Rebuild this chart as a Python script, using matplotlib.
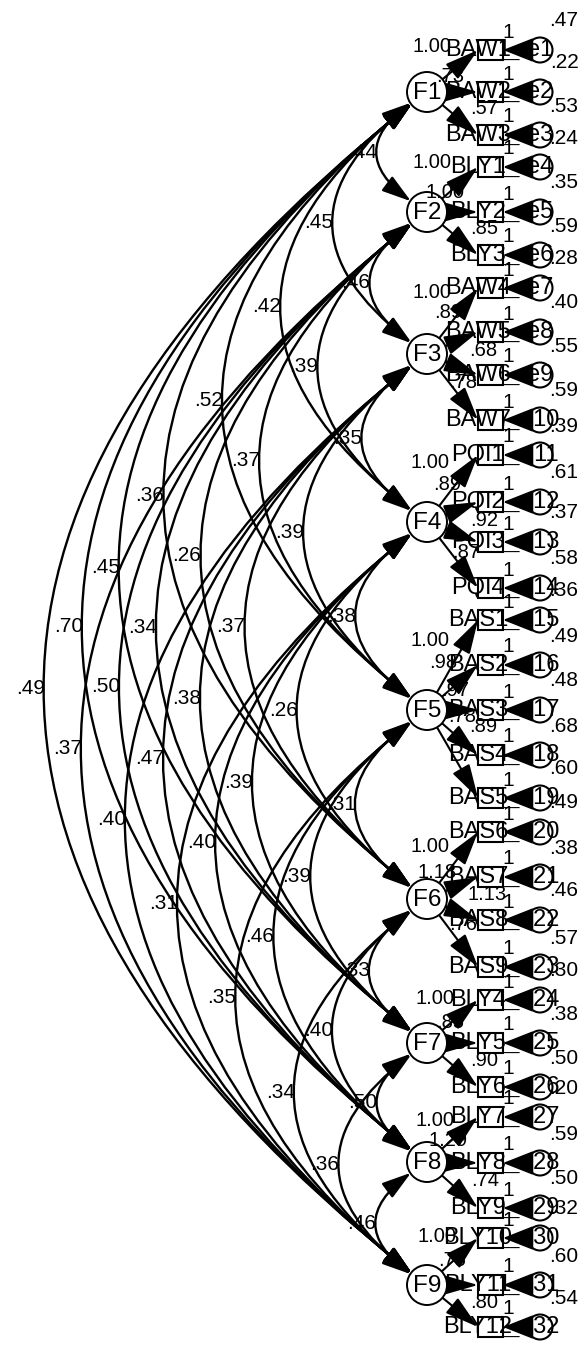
import matplotlib.pyplot as plt
from matplotlib.patches import Circle, Rectangle, FancyArrowPatch

plt.rcParams['font.family'] = ['Liberation Sans', 'DejaVu Sans']

# latent factors (vertical position in px from top)
factors = ['F1', 'F2', 'F3', 'F4', 'F5', 'F6', 'F7', 'F8', 'F9']
factor_y = [92, 212, 354, 522, 710, 899, 1043, 1162, 1285]

# observed indicators
items = ['BAW1', 'BAW2', 'BAW3', 'BLY1', 'BLY2', 'BLY3',
         'BAW4', 'BAW5', 'BAW6', 'BAW7', 'PQI1', 'PQI2', 'PQI3', 'PQI4',
         'BAS1', 'BAS2', 'BAS3', 'BAS4', 'BAS5', 'BAS6', 'BAS7', 'BAS8', 'BAS9',
         'BLY4', 'BLY5', 'BLY6', 'BLY7', 'BLY8', 'BLY9', 'BLY10', 'BLY11', 'BLY12']
item_factor = [0, 0, 0, 1, 1, 1, 2, 2, 2, 2, 3, 3, 3, 3, 4, 4, 4, 4, 4,
               5, 5, 5, 5, 6, 6, 6, 7, 7, 7, 8, 8, 8]
item_y = [50, 92, 135, 167, 212, 255, 288, 332, 375, 420, 455, 502, 542, 588,
          620, 665, 710, 755, 798, 832, 877, 920, 967, 1000, 1043, 1087,
          1117, 1163, 1208, 1238, 1285, 1327]
loadings = ['1.00', '.73', '.57', '1.00', '1.00', '.85', '1.00', '.89', '.68', '.78',
            '1.00', '.89', '.92', '.87', '1.00', '.98', '.97', '.89', '.78',
            '1.00', '1.18', '1.13', '.76', '1.00', '.85', '.90',
            '1.00', '1.29', '.74', '1.00', '.75', '.80']
error_var = ['.47', '.22', '.53', '.24', '.35', '.59', '.28', '.40', '.55', '.59',
             '.39', '.61', '.37', '.58', '.36', '.49', '.48', '.68', '.60', '.49',
             '.38', '.46', '.57', '.30', '.38', '.50', '.20', '.59', '.50', '.32',
             '.60', '.54']

# factor covariances: (factor a, factor b, estimate)
covariances = [
    (0, 1, '.44'), (0, 2, '.45'), (1, 2, '.46'), (0, 3, '.42'), (1, 3, '.39'),
    (2, 3, '.35'), (0, 4, '.52'), (1, 4, '.37'), (2, 4, '.39'), (3, 4, '.38'),
    (0, 5, '.36'), (1, 5, '.26'), (2, 5, '.37'), (3, 5, '.26'), (4, 5, '.31'),
    (0, 6, '.45'), (1, 6, '.34'), (2, 6, '.38'), (3, 6, '.39'), (4, 6, '.39'),
    (5, 6, '.33'), (0, 7, '.70'), (1, 7, '.50'), (2, 7, '.47'), (3, 7, '.40'),
    (4, 7, '.46'), (5, 7, '.40'), (6, 7, '.50'), (0, 8, '.49'), (1, 8, '.37'),
    (2, 8, '.40'), (3, 8, '.31'), (4, 8, '.35'), (5, 8, '.34'), (6, 8, '.36'),
    (7, 8, '.46')]

# where the loading labels sit, relative to their factor centre
load_off = [(5, -45), (23, -16), (57, 16), (5, -49), (18, -20), (57, 16),
            (5, -61), (21, -41), (56, -4), (36, 29), (3, -59), (20, -37), (57, -2),
            (39, 30), (3, -70), (16, -47), (28, -20), (56, 16), (35, 6),
            (3, -52), (10, -27), (60, -4), (36, 26), (8, -45), (23, -21), (57, 17),
            (8, -42), (21, -22), (58, 18), (10, -48), (25, -25), (57, 17)]

fx, fr = 427, 20          # factor circles
bx0, bw, bh = 478, 25, 20  # indicator boxes
ex, er = 540, 12.5         # error circles

fig = plt.figure(figsize=(5.82, 13.45), dpi=100)
ax = fig.add_axes([0, 0, 1, 1])
ax.set_xlim(0, 582)
ax.set_ylim(1345, 0)
ax.axis('off')

fcirc = []
for name, y in zip(factors, factor_y):
    c = Circle((fx, y), fr, fc='white', ec='black', lw=1.4, zorder=3)
    ax.add_patch(c)
    fcirc.append(c)
    ax.text(fx, y + 1, name, ha='center', va='center', fontsize=17.5, zorder=5)

cov_style = '<|-|>,head_length=1.8,head_width=0.55'
for a, b, val in covariances:
    y1, y2 = factor_y[a], factor_y[b]
    d = y2 - y1
    bulge = 12 + 0.31 * d
    arc = FancyArrowPatch((fx, y1), (fx, y2), connectionstyle=f'arc3,rad={2 * bulge / d:.4f}',
                          arrowstyle=cov_style, mutation_scale=10, lw=1.7, color='black',
                          patchA=fcirc[a], patchB=fcirc[b], shrinkA=0, shrinkB=0, zorder=2)
    ax.add_patch(arc)
    ax.text(fx - bulge - 15, (y1 + y2) / 2, val, ha='center', va='center', fontsize=15, zorder=4)

reg_style = '-|>,head_length=2.1,head_width=0.6'
err_style = '-|>,head_length=1.9,head_width=0.75'
for k, name in enumerate(items):
    f = item_factor[k]
    y = item_y[k]
    ax.text(bx0, y, name, ha='center', va='center', fontsize=17, zorder=4)
    ax.add_patch(Rectangle((bx0, y - bh / 2), bw, bh, fc='none', ec='black', lw=1.5, zorder=5))
    ax.add_patch(FancyArrowPatch((fx, factor_y[f]), (bx0, y), arrowstyle=reg_style,
                                 mutation_scale=10, lw=1.5, color='black',
                                 patchA=fcirc[f], shrinkA=0, shrinkB=0, zorder=2))
    ec = Circle((ex, y), er, fc='none', ec='black', lw=1.5, zorder=3)
    ax.add_patch(ec)
    ax.text(ex, y, f'e{k + 1}', ha='center', va='center', fontsize=17, zorder=4)
    ax.add_patch(FancyArrowPatch((ex, y), (bx0 + bw, y), arrowstyle=err_style,
                                 mutation_scale=10, lw=1.5, color='black',
                                 patchA=ec, shrinkA=0, shrinkB=0, zorder=2))
    ax.text(508, y - 18, '1', ha='center', va='center', fontsize=15, zorder=4)
    ax.text(511, y + 10, '\u2014', ha='center', va='center', fontsize=12, zorder=4)
    ax.text(564, y - 29, error_var[k], ha='center', va='center', fontsize=15, zorder=4)
    dx, dy = load_off[k]
    ax.text(fx + dx, factor_y[f] + dy, loadings[k], ha='center', va='center',
            fontsize=14.5, zorder=4)

fig.savefig('out.png', dpi=100)
